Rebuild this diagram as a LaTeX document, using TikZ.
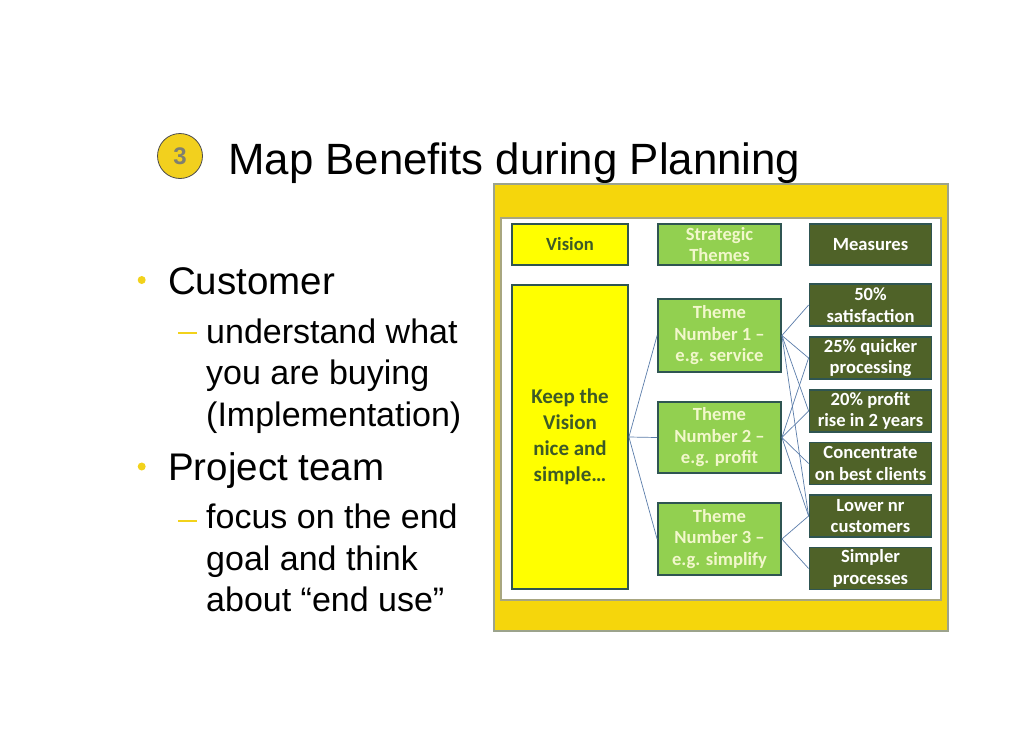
\documentclass[tikz,border=0pt]{standalone}
\usepackage{fontspec}
\setmainfont{Liberation Sans}
\newfontfamily\diagfont{Carlito}
\definecolor{frameyellow}{HTML}{F5D60C}
\definecolor{framegray}{HTML}{9CA38C}
\definecolor{innergray}{HTML}{A8A680}
\definecolor{visfill}{HTML}{FFFF00}
\definecolor{vistext}{HTML}{3D5A27}
\definecolor{boxborder}{HTML}{2F5552}
\definecolor{thmfill}{HTML}{92D050}
\definecolor{thmtext}{HTML}{F2F7CC}
\definecolor{msrfill}{HTML}{4F6228}
\definecolor{linkblue}{HTML}{5B7DAA}
\definecolor{bulletyellow}{HTML}{F2D21B}
\definecolor{circlegold}{HTML}{F2D01E}
\definecolor{numgray}{HTML}{7F7F70}
\begin{document}
\begin{tikzpicture}[x=1pt,y=-1pt,
  lvlone/.style={anchor=base west,inner sep=0pt,font=\fontsize{38.5}{44}\selectfont},
  lvltwo/.style={anchor=base west,inner sep=0pt,font=\fontsize{34}{40}\selectfont},
  bulletdot/.style={circle,fill=bulletyellow,inner sep=0pt,minimum size=8pt},
  bulletdash/.style={rectangle,fill=bulletyellow,inner sep=0pt,minimum width=19pt,minimum height=2pt},
  dbox/.style={rectangle,inner sep=0pt,line width=1.8pt,draw=boxborder,align=center,
    font=\diagfont\bfseries\fontsize{18.6}{21.5}\selectfont},
  visbox/.style={dbox,fill=visfill,text=vistext,minimum width=116pt},
  thmbox/.style={dbox,fill=thmfill,text=thmtext,minimum width=123pt},
  msrbox/.style={dbox,fill=msrfill,text=white,minimum width=122pt,minimum height=42pt},
  link/.style={draw=linkblue,line width=0.7pt}]
\useasboundingbox (0,0) rectangle (1030,728);
% title
\node[circle,fill=circlegold,draw=black!70,line width=0.8pt,minimum size=45pt,inner sep=0pt,
  text=numgray,font=\bfseries\fontsize{24}{28}\selectfont] (num) at (180,156) {3};
\node[anchor=base west,inner sep=0pt,font=\fontsize{43.8}{50}\selectfont] (title) at (228,174) {Map Benefits during Planning};
% bullets
\node[bulletdot] (b1) at (141.7,280) {};
\node[lvlone] (t1) at (168,294) {Customer};
\node[bulletdash] (d1) at (187.5,333) {};
\node[lvltwo] (t11) at (206,343) {understand what};
\node[lvltwo] (t12) at (206,384.5) {you are buying};
\node[lvltwo] (t13) at (206,426) {(Implementation)};
\node[bulletdot] (b2) at (141.7,466.5) {};
\node[lvlone] (t2) at (168,480) {Project team};
\node[bulletdash] (d2) at (187.5,520.5) {};
\node[lvltwo] (t21) at (206,528.5) {focus on the end};
\node[lvltwo] (t22) at (206,570) {goal and think};
\node[lvltwo] (t23) at (206,611.5) {about “end use”};
% frame
\draw[fill=frameyellow,draw=framegray,line width=1.5pt] (494,184) rectangle (948,631);
\draw[fill=white,draw=innergray,line width=1.5pt] (501,218) rectangle (941,600);
% headers
\node[visbox,minimum height=41pt] (vh) at (570,244.5) {Vision};
\node[thmbox,minimum height=41pt] (th) at (719.5,244.5) {Strategic\\Themes};
\node[msrbox,minimum height=41pt] (mh) at (870.5,244.5) {Measures};
% vision
\node[visbox,minimum height=304pt,font=\diagfont\bfseries\fontsize{21}{26}\selectfont] (vis) at (570,437) {Keep the\\Vision\\nice and\\simple…};
% themes
\node[thmbox,minimum height=73pt] (th1) at (719.5,335.5) {Theme\\Number 1 –\\e.g. service};
\node[thmbox,minimum height=71pt] (th2) at (719.5,437.5) {Theme\\Number 2 –\\e.g. profit};
\node[thmbox,minimum height=72pt] (th3) at (719.5,539) {Theme\\Number 3 –\\e.g. simplify};
% measures
\node[msrbox] (m1) at (870.5,305) {50\%\\satisfaction};
\node[msrbox] (m2) at (870.5,358) {25\% quicker\\processing};
\node[msrbox] (m3) at (870.5,411) {20\% profit\\rise in 2 years};
\node[msrbox] (m4) at (870.5,463.5) {Concentrate\\on best clients};
\node[msrbox] (m5) at (870.5,516) {Lower nr\\customers};
\node[msrbox] (m6) at (870.5,568.5) {Simpler\\processes};
% links
\draw[link] (vis.east) -- (th1.west);
\draw[link] (vis.east) -- (th2.west);
\draw[link] (vis.east) -- (th3.west);
\draw[link] (th1.east) -- (m1.west);
\draw[link] (th1.east) -- (m2.west);
\draw[link] (th1.east) -- (m3.west);
\draw[link] (th1.east) -- (m5.west);
\draw[link] (th2.east) -- (m2.west);
\draw[link] (th2.east) -- (m3.west);
\draw[link] (th2.east) -- (m4.west);
\draw[link] (th2.east) -- (m5.west);
\draw[link] (th3.east) -- (m5.west);
\draw[link] (th3.east) -- (m6.west);
\end{tikzpicture}
\end{document}
